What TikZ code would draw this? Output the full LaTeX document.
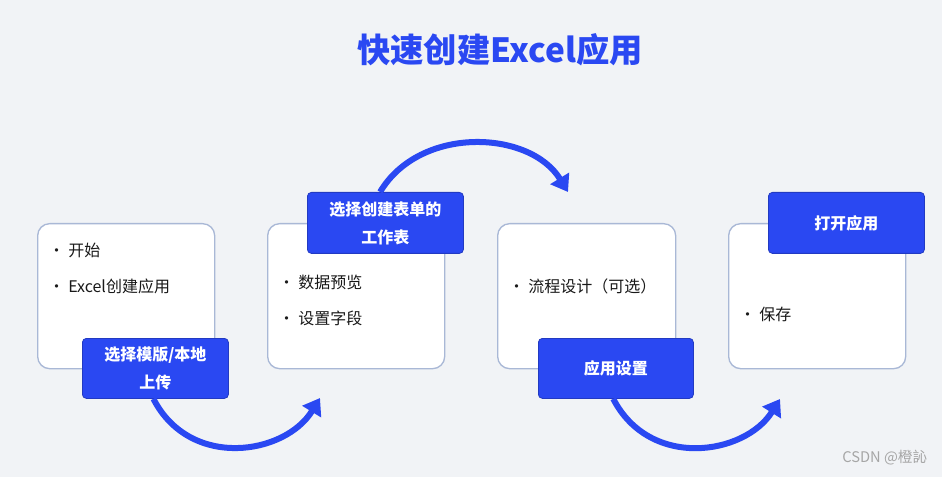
\documentclass[tikz,border=0pt]{standalone}
\usepackage{fontspec}
\setmainfont{Noto Sans CJK SC}
\usetikzlibrary{arrows.meta}
\definecolor{bg}{HTML}{F1F3F6}
\definecolor{blu}{HTML}{2A48F2}
\definecolor{bord}{HTML}{A9B8D6}
\tikzset{
 card/.style={draw=bord,line width=1pt,fill=white,rounded corners=9pt,anchor=north west},
 tag/.style={fill=blu,draw=blu!80!black,line width=0.6pt,rounded corners=3pt,text=white,font=\bfseries\fontsize{12}{21}\selectfont,align=center,anchor=north west,inner sep=0pt},
 item/.style={anchor=west,font=\fontsize{12}{14}\selectfont,text=black!90},
 flow/.style={draw=blu,line width=4.5pt,-{Triangle[length=12pt,width=16pt]}}
}
\begin{document}
\begin{tikzpicture}[x=0.75pt,y=-0.75pt]
\fill[bg] (0,0) rectangle (942,477);
\useasboundingbox (0,0) rectangle (942,477);
\node[font=\bfseries\fontsize{25}{28}\selectfont,text=blu] (title) at (500,50) {快速创建Excel应用};
\node[card,minimum width=177*0.75pt,minimum height=145*0.75pt] (b1) at (37,223) {};
\node[card,minimum width=177*0.75pt,minimum height=145*0.75pt] (b2) at (267,223) {};
\node[card,minimum width=178*0.75pt,minimum height=145*0.75pt] (b3) at (497,223) {};
\node[card,minimum width=177*0.75pt,minimum height=145*0.75pt] (b4) at (728,223) {};
\node[item] (i1) at (44,250) {• 开始};
\node[item] (i2) at (44,286) {• Excel创建应用};
\node[item] (i3) at (274,282) {• 数据预览};
\node[item] (i4) at (274,318) {• 设置字段};
\node[item] (i5) at (504,286) {• 流程设计（可选）};
\node[item] (i6) at (735,314) {• 保存};
\node[tag,minimum width=146*0.75pt,minimum height=60*0.75pt] (t1) at (82,338) {选择模版/本地\\上传};
\node[tag,minimum width=156*0.75pt,minimum height=61*0.75pt] (t2) at (307,192) {选择创建表单的\\工作表};
\node[tag,minimum width=155*0.75pt,minimum height=60*0.75pt] (t3) at (538,338) {应用设置};
\node[tag,minimum width=156*0.75pt,minimum height=61*0.75pt] (t4) at (768,192) {打开应用};
\coordinate (e1) at (320,398);
\coordinate (e2) at (568,192);
\coordinate (e3) at (780,399);
\draw[flow] ([xshift=-1.5pt]t1.south) .. controls (190,470) and (285,455) .. (e1);
\draw[flow] ([xshift=-4pt]t2.north) .. controls (420,125) and (530,130) .. (e2);
\draw[flow] ([xshift=-2pt]t3.south) .. controls (650,470) and (745,455) .. (e3);
\node[font=\fontsize{11}{13}\selectfont,text=gray!70,anchor=east] (wm) at (932,458) {CSDN @橙訫};
\end{tikzpicture}
\end{document}
